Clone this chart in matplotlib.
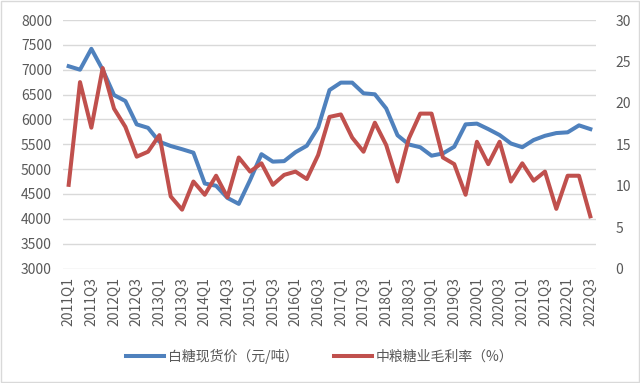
import matplotlib
matplotlib.use("Agg")
import matplotlib.pyplot as plt
from matplotlib.patches import Rectangle

plt.rcParams['font.family'] = ['Noto Sans CJK SC', 'DejaVu Sans']

quarters = [f"{y}Q{q}" for y in range(2011, 2023) for q in range(1, 5)][:47]

sugar_price = [7070, 7000, 7420, 7000, 6490, 6370, 5900, 5830,
               5550, 5465, 5400, 5330, 4710, 4665, 4420, 4300,
               4780, 5300, 5150, 5160, 5340, 5470, 5840, 6590,
               6740, 6740, 6525, 6505, 6220, 5680, 5495, 5440,
               5270, 5315, 5450, 5900, 5915, 5805, 5685, 5515,
               5440, 5585, 5670, 5725, 5740, 5880, 5805]

gross_margin = [10.1, 22.5, 17.0, 24.2, 19.3, 17.1, 13.5, 14.1,
                16.1, 8.7, 7.1, 10.5, 8.9, 11.2, 8.6, 13.4,
                11.7, 12.7, 10.1, 11.3, 11.7, 10.8, 13.7, 18.3,
                18.6, 15.8, 14.1, 17.6, 14.9, 10.5, 15.7, 18.7,
                18.7, 13.4, 12.6, 8.9, 15.3, 12.6, 15.3, 10.5,
                12.7, 10.6, 11.7, 7.2, 11.2, 11.2, 6.3]

label_sugar = "白糖现货价（元/吨）"
label_margin = "中粮糖业毛利率（%）"

fig = plt.figure(figsize=(6.4, 3.83), dpi=100)
fig.patches.append(Rectangle((0.002, 0.003), 0.996, 0.994, transform=fig.transFigure,
                             fill=False, edgecolor='#D9D9D9', linewidth=1.0))

ax = fig.add_axes([63/640, 1 - 268.5/383, (596 - 63)/640, (268.5 - 20)/383])
ax2 = ax.twinx()

x = list(range(len(quarters)))
blue = '#4F81BD'
red = '#C0504D'
txt = '#595959'

l1, = ax.plot(x, sugar_price, color=blue, lw=2.9, solid_joinstyle='round', zorder=3)
l2, = ax2.plot(x, gross_margin, color=red, lw=2.9, solid_joinstyle='round', zorder=3)

ax.set_xlim(-0.5, len(quarters) - 0.5)
ax.set_ylim(3000, 8000)
ax.set_yticks(range(3000, 8001, 500))
ax2.set_ylim(0, 30)
ax2.set_yticks(range(0, 31, 5))

ax.grid(axis='y', color='#D9D9D9', lw=1.0)
ax.set_axisbelow(True)
for a in (ax, ax2):
    for s in a.spines.values():
        s.set_visible(False)
    a.tick_params(length=0, colors=txt, labelsize=10)

ax.set_xticks(x[::2])
ax.set_xticklabels(quarters[::2], rotation=90, fontsize=10, color=txt)
ax.tick_params(axis='x', pad=6)
ax.tick_params(axis='y', pad=8)
ax2.tick_params(axis='y', pad=14)
for t in ax2.get_yticklabels():
    t.set_horizontalalignment('left')

fig.legend([l1, l2], [label_sugar, label_margin], loc='center',
           bbox_to_anchor=(0.5, 1 - 356/383),
           ncol=2, frameon=False, fontsize=10, labelcolor=txt, handlelength=2.7,
           handletextpad=0.3, columnspacing=2.6)

fig.savefig('out.png', dpi=100)
